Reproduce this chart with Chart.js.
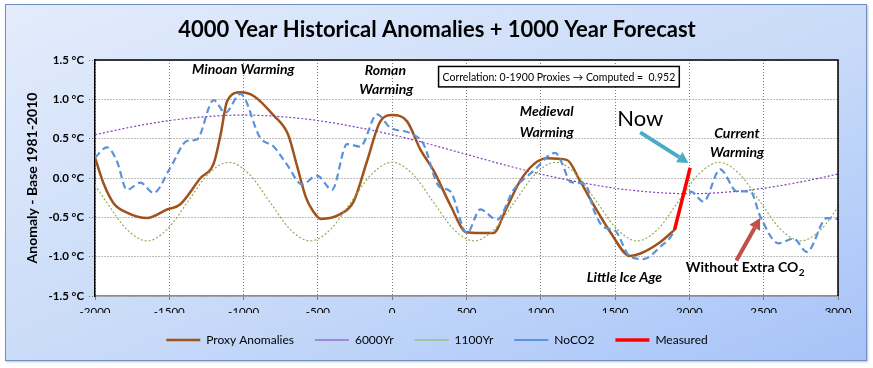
<!DOCTYPE html>
<html>
<head>
<meta charset="utf-8">
<script src="https://cdn.jsdelivr.net/npm/chart.js@4.4.1/dist/chart.umd.min.js"></script>
<style>
  html, body { margin: 0; padding: 0; background: #fff; }
  #wrap { position: relative; width: 873px; height: 368px; overflow: hidden; }
  #frame {
    position: absolute; left: 5px; top: 4px; width: 860px; height: 355px;
    border: 1px solid #6f8fc2;
    background: linear-gradient(to bottom right, #e3ecfc, #c8daf8 55%, #a6c3f8);
    box-shadow: 1px 1px 2px rgba(0,0,0,0.25);
  }
  canvas { position: absolute; left: 0; top: 0; }
</style>
</head>
<body>
<div id="wrap">
  <div id="frame"></div>
  <canvas id="chart" width="873" height="368"></canvas>
</div>
<script>
// values
const proxyYears = [-2000, -1940, -1875, -1785, -1650, -1515, -1430, -1290, -1200, -1155, -1110, -1020, -930, -800, -700, -640, -580, -530, -480, -350, -260, -170, -80, 0, 100, 190, 280, 390, 500, 590, 680, 770, 860, 950, 1040, 1175, 1265, 1355, 1465, 1600, 1670, 1800, 1900];
const proxyValues = [0.26, -0.08, -0.32, -0.44, -0.51, -0.40, -0.34, 0.0, 0.19, 0.55, 0.98, 1.09, 1.04, 0.80, 0.55, 0.15, -0.25, -0.43, -0.52, -0.46, -0.30, 0.21, 0.72, 0.80, 0.72, 0.36, 0.09, -0.34, -0.69, -0.70, -0.70, -0.38, -0.04, 0.17, 0.25, 0.23, -0.04, -0.34, -0.68, -0.99, -0.96, -0.82, -0.66];

const sixkYears = [-2000, -1750, -1500, -1250, -1000, -750, -500, -250, 0, 250, 500, 750, 1000, 1250, 1500, 1750, 2000, 2250, 2500, 2750, 3000];
const sixkValues = [0.55, 0.65, 0.73, 0.78, 0.80, 0.78, 0.73, 0.65, 0.55, 0.43, 0.30, 0.17, 0.05, -0.05, -0.13, -0.18, -0.20, -0.18, -0.13, -0.05, 0.05];

const elevenYears = [-2000, -1925, -1788, -1650, -1513, -1375, -1238, -1100, -963, -825, -688, -550, -413, -275, -138, 0, 138, 275, 413, 550, 688, 825, 963, 1100, 1238, 1375, 1513, 1650, 1788, 1925, 2063, 2200, 2338, 2475, 2613, 2750, 2888, 3000];
const elevenValues = [-0.09, -0.30, -0.65, -0.80, -0.65, -0.30, 0.05, 0.20, 0.05, -0.30, -0.65, -0.80, -0.65, -0.30, 0.05, 0.20, 0.05, -0.30, -0.65, -0.80, -0.65, -0.30, 0.05, 0.20, 0.05, -0.30, -0.65, -0.80, -0.65, -0.30, 0.05, 0.20, 0.05, -0.30, -0.65, -0.80, -0.65, -0.37];

const noco2Years = [-2000, -1919, -1852, -1785, -1695, -1606, -1493, -1381, -1314, -1202, -1123, -1022, -888, -798, -708, -607, -506, -405, -304, -215, -102, -13, 122, 211, 312, 391, 503, 593, 705, 817, 951, 1097, 1140, 1200, 1300, 1355, 1420, 1500, 1600, 1690, 1800, 1900, 1975, 2020, 2095, 2207, 2320, 2410, 2477, 2600, 2700, 2791, 2925, 3000];
const noco2Values = [0.26, 0.39, 0.21, -0.15, -0.06, -0.19, 0.13, 0.47, 0.49, 0.99, 0.83, 1.07, 0.51, 0.40, 0.17, -0.08, 0.03, -0.15, 0.43, 0.40, 0.81, 0.64, 0.57, 0.43, -0.10, -0.17, -0.70, -0.40, -0.53, -0.15, 0.09, 0.32, 0.20, -0.05, -0.08, -0.40, -0.62, -0.67, -1.00, -1.03, -0.88, -0.66, -0.17, -0.18, -0.30, 0.11, -0.17, -0.17, -0.49, -0.83, -0.77, -0.94, -0.51, -0.52];

const measuredYears = [1900, 2005];
const measuredValues = [-0.66, 0.13];

const seriesNames = ["Proxy Anomalies", "6000Yr", "1100Yr", "NoCO2", "Measured"];

const pts = (xs, ys) => xs.map((x, i) => ({ x: x, y: ys[i] }));

// text placed in data coordinates
const warmLabels = [
    { text: "Minoan Warming", x: -1002, y: 1.38 },
    { text: "Roman", x: -46, y: 1.37 },
    { text: "Warming", x: -40, y: 1.12 },
    { text: "Medieval", x: 1040, y: 0.84 },
    { text: "Warming", x: 1040, y: 0.58 },
    { text: "Current", x: 2320, y: 0.57 },
    { text: "Warming", x: 2320, y: 0.32 },
    { text: "Little Ice Age", x: 1563, y: -1.26 },
];

const FONT = "Lato, 'Open Sans', sans-serif";

function drawArrow(ctx, x1, y1, x2, y2, color) {
    const ang = Math.atan2(y2 - y1, x2 - x1);
    const head = 11, half = 6;
    const bx = x2 - head * Math.cos(ang), by = y2 - head * Math.sin(ang);
    ctx.strokeStyle = color;
    ctx.fillStyle = color;
    ctx.lineWidth = 4;
    ctx.lineCap = "butt";
    ctx.beginPath();
    ctx.moveTo(x1, y1);
    ctx.lineTo(bx, by);
    ctx.stroke();
    ctx.beginPath();
    ctx.moveTo(x2, y2);
    ctx.lineTo(bx + half * Math.sin(ang), by - half * Math.cos(ang));
    ctx.lineTo(bx - half * Math.sin(ang), by + half * Math.cos(ang));
    ctx.closePath();
    ctx.fill();
}

const plotFrame = {
    id: "plotFrame",
    beforeDraw(chart) {
        const { ctx, chartArea: a } = chart;
        ctx.save();
        ctx.fillStyle = "#fff";
        ctx.fillRect(a.left, a.top, a.right - a.left, a.bottom - a.top);
        ctx.restore();
    },
    afterDatasetsDraw(chart) {
        const { ctx, chartArea: a, scales } = chart;
        const sx = v => scales.x.getPixelForValue(v);
        const sy = v => scales.y.getPixelForValue(v);
        ctx.save();

        // top and right edges of the plot
        ctx.strokeStyle = "#000";
        ctx.lineWidth = 1.5;
        ctx.beginPath();
        ctx.moveTo(a.left, a.top);
        ctx.lineTo(a.right, a.top);
        ctx.lineTo(a.right, a.bottom);
        ctx.stroke();

        // labels
        ctx.fillStyle = "#000";
        ctx.textAlign = "center";
        ctx.textBaseline = "middle";
        ctx.font = "italic bold 14px " + FONT;
        warmLabels.forEach(l => ctx.fillText(l.text, sx(l.x), sy(l.y)));

        ctx.font = "22px " + FONT;
        ctx.fillText("Now", sx(1670), sy(0.75));

        // without extra CO2, with subscript
        ctx.font = "bold 14px " + FONT;
        const main = "Without Extra CO";
        const wMain = ctx.measureText(main).width;
        ctx.font = "bold 10px " + FONT;
        const wSub = ctx.measureText("2").width;
        let x0 = sx(2374) - (wMain + wSub) / 2;
        const yc = sy(-1.14);
        ctx.textAlign = "left";
        ctx.font = "bold 14px " + FONT;
        ctx.fillText(main, x0, yc);
        ctx.font = "bold 10px " + FONT;
        ctx.fillText("2", x0 + wMain + 0.5, yc + 5);

        // correlation box
        const bl = sx(312), br = sx(1932), bt = sy(1.418), bb = sy(1.158);
        ctx.fillStyle = "#fff";
        ctx.fillRect(bl, bt, br - bl, bb - bt);
        ctx.strokeStyle = "#000";
        ctx.lineWidth = 1.5;
        ctx.strokeRect(bl, bt, br - bl, bb - bt);
        ctx.fillStyle = "#000";
        ctx.textAlign = "center";
        ctx.font = "10.5px " + FONT;
        ctx.fillText("Correlation: 0-1900 Proxies \u2192 Computed =  0.952", (bl + br) / 2, (bt + bb) / 2 + 0.5);

        // arrows
        drawArrow(ctx, sx(1669), sy(0.58), sx(1994), sy(0.19), "#4bacc6");
        drawArrow(ctx, sx(2316), sy(-1.05), sx(2476), sy(-0.51), "#c0504d");

        ctx.restore();
    }
};

new Chart(document.getElementById("chart"), {
    type: "line",
    data: {
        datasets: [
            {
                label: seriesNames[0],
                data: pts(proxyYears, proxyValues),
                borderColor: "#a0521d",
                backgroundColor: "#a0521d",
                borderWidth: 2.5,
                order: 5,
            },
            {
                label: seriesNames[1],
                data: pts(sixkYears, sixkValues),
                borderColor: "#7f3fb8",
                backgroundColor: "#7f3fb8",
                borderWidth: 1.2,
                borderDash: [2, 2],
                order: 4,
            },
            {
                label: seriesNames[2],
                data: pts(elevenYears, elevenValues),
                borderColor: "#8faf52",
                backgroundColor: "#8faf52",
                borderWidth: 1.2,
                borderDash: [2, 2],
                order: 3,
            },
            {
                label: seriesNames[3],
                data: pts(noco2Years, noco2Values),
                borderColor: "#5b93d9",
                backgroundColor: "#5b93d9",
                borderWidth: 2.2,
                borderDash: [7, 4],
                order: 2,
            },
            {
                label: seriesNames[4],
                data: pts(measuredYears, measuredValues),
                borderColor: "#ff0000",
                backgroundColor: "#ff0000",
                borderWidth: 3.5,
                order: 1,
            },
        ],
    },
    options: {
        responsive: false,
        animation: false,
        devicePixelRatio: 1,
        layout: { padding: { left: 36, right: 35, top: 0, bottom: 12 } },
        elements: {
            point: { radius: 0, hoverRadius: 0 },
            line: { cubicInterpolationMode: "monotone", fill: false },
        },
        scales: {
            x: {
                type: "linear",
                min: -2000,
                max: 3000,
                afterFit(scale) { scale.height = 17; },
                ticks: {
                    stepSize: 500,
                    color: "#000",
                    padding: 5,
                    font: { family: FONT, size: 11.5 },
                    callback: v => String(v),
                },
                grid: { color: "#7a7a7a", tickColor: "#7a7a7a", tickLength: 4, tickBorderDash: [] },
                border: { color: "#8c8c8c", width: 1.5, dash: [1, 2] },
            },
            y: {
                min: -1.5,
                max: 1.5,
                afterFit(scale) { scale.width = 59; },
                ticks: {
                    stepSize: 0.5,
                    color: "#000",
                    padding: 5,
                    font: { family: FONT, size: 11.5, weight: "bold" },
                    callback: v => v.toFixed(1) + " \u00B0C",
                },
                grid: { color: "#7a7a7a", tickColor: "#7a7a7a", tickLength: 6, tickBorderDash: [1, 2] },
                border: { color: "#000", width: 1.5, dash: [1, 2] },
                title: {
                    display: true,
                    text: "Anomaly - Base 1981-2010",
                    color: "#000",
                    font: { family: FONT, size: 14, weight: "bold" },
                    padding: { top: -12, bottom: 0 },
                },
            },
        },
        plugins: {
            title: {
                display: true,
                text: "4000 Year Historical Anomalies + 1000 Year Forecast",
                color: "#000",
                font: { family: FONT, size: 22, weight: "bold" },
                padding: { top: 17, bottom: 16.6 },
            },
            legend: {
                position: "bottom",
                labels: {
                    color: "#000",
                    font: { family: FONT, size: 12 },
                    usePointStyle: true,
                    pointStyle: "line",
                    pointStyleWidth: 34,
                    boxHeight: 8,
                    padding: 21,
                    sort: (a, b) => a.datasetIndex - b.datasetIndex,
                },
            },
            tooltip: { enabled: false },
        },
    },
    plugins: [plotFrame],
});
</script>
</body>
</html>
